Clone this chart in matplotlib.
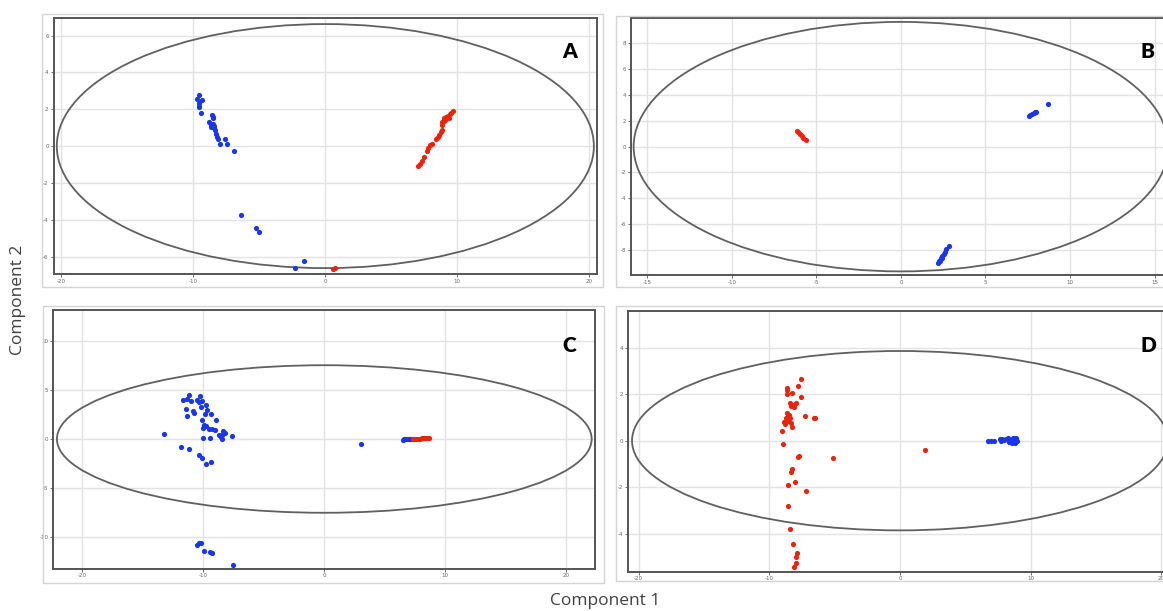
import matplotlib
matplotlib.use("Agg")
import matplotlib.pyplot as plt
from matplotlib.patches import Ellipse, Rectangle

plt.rcParams['axes.unicode_minus'] = False

W, H = 1163, 611

# ---------------- data ----------------
# Panel A
a_blue_x = [-9.6, -9.7, -9.35, -9.55, -9.6, -9.55, -9.4, -8.6, -8.55, -8.5, -8.8, -8.65, -8.5, -8.4,
            -8.7, -8.45, -8.35, -8.25, -8.2, -8.15, -7.95, -7.6, -7.45, -6.95, -6.36, -5.24, -5.04,
            -1.58, -2.29]
a_blue_y = [2.75, 2.55, 2.5, 2.35, 2.2, 2.1, 1.8, 1.7, 1.6, 1.5, 1.3, 1.15, 1.2, 1.1,
            1.05, 1.0, 0.85, 0.63, 0.5, 0.4, 0.1, 0.38, 0.09, -0.27, -3.77, -4.47, -4.69,
            -6.22, -6.63]
a_red_x = [7.0, 7.18, 7.33, 7.5, 7.68, 7.79, 7.94, 8.09, 8.35, 8.53, 8.65, 8.76, 8.81, 8.85,
           8.81, 8.96, 9.03, 9.16, 9.3, 9.42, 9.54, 9.67, 9.1, 9.36, 0.56, 0.76]
a_red_y = [-1.08, -0.97, -0.79, -0.58, -0.25, -0.13, 0.05, 0.14, 0.36, 0.47, 0.59, 0.74, 0.9, 1.14,
           1.3, 1.37, 1.5, 1.59, 1.62, 1.73, 1.8, 1.91, 1.43, 1.5, -6.7, -6.61]

# Panel B
b_blue_x = [7.55, 7.65, 7.75, 7.85, 7.95, 8.0, 8.7,
            2.22, 2.28, 2.37, 2.44, 2.52, 2.58, 2.68, 2.86, 2.3, 2.41]
b_blue_y = [2.4, 2.46, 2.53, 2.59, 2.67, 2.71, 3.28,
            -8.99, -8.84, -8.65, -8.47, -8.32, -8.14, -7.95, -7.7, -8.9, -8.6]
b_red_x = [-6.15, -6.06, -5.96, -5.86, -5.76, -5.64]
b_red_y = [1.24, 1.11, 0.98, 0.83, 0.7, 0.52]

# Panel C
c_blue_x = [-11.16, -10.27, -11.65, -11.37, -11.04, -10.55, -10.33, -10.08, -10.21, -9.8,
            -11.43, -10.88, -10.74, -9.72, -9.86, -9.39, -11.37, -10.13, -8.98, -9.94,
            -9.78, -10.0, -9.5, -9.3, -9.03, -8.35, -8.21, -8.68, -8.48, -8.56,
            -7.65, -10.0, -9.45, -8.48, -13.25, -11.87, -11.16, -10.33, -10.13, -9.39,
            -9.8, -10.5, -10.33, -10.17, -9.94, -9.45, -9.26, -7.57, 3.02,
            6.5, 6.6, 6.7, 6.8, 6.9, 7.0, 7.1, 7.2]
c_blue_y = [4.52, 4.38, 3.94, 4.04, 3.87, 3.94, 3.77, 3.87, 3.26, 3.43,
            3.03, 2.82, 2.69, 2.92, 2.59, 2.59, 2.35, 1.98, 1.91, 1.47,
            1.33, 1.13, 0.99, 1.06, 0.89, 0.79, 0.66, 0.45, 0.39, 0.21,
            0.28, 0.15, 0.15, 0.05, 0.52, -0.8, -0.97, -1.64, -1.92, -2.39,
            -2.56, -10.78, -10.65, -10.55, -11.42, -11.52, -11.62, -12.81, -0.51,
            -0.06, -0.05, -0.05, -0.04, -0.04, -0.03, -0.03, -0.02]
c_red_x = [7.3, 7.45, 7.6, 7.75, 7.9, 8.05, 8.2, 8.35, 8.5, 8.65]
c_red_y = [-0.01, 0.0, 0.02, 0.03, 0.05, 0.06, 0.08, 0.09, 0.1, 0.12]

# Panel D
d_blue_x = [6.72, 6.93, 7.19, 7.65, 7.83, 8.09, 8.27, 8.47, 8.6, 8.73, 8.85, 8.98, 8.67,
            7.75, 7.96, 8.35, 8.9, 8.78]
d_blue_y = [-0.02, 0.0, -0.01, 0.06, 0.08, 0.08, 0.1, 0.04, -0.08, -0.05, 0.08, -0.01, 0.1,
            -0.02, 0.01, -0.05, 0.13, -0.11]
d_red_x = [-7.55, -7.8, -8.62, -8.62, -8.24, -8.62, -7.6, -8.42, -8.29, -8.11, -7.98, -8.36,
           -8.62, -8.49, -8.72, -8.42, -8.88, -8.55, -8.36, -8.8, -8.29, -9.05, -7.27, -6.56,
           -6.48, -8.93, -7.78, -7.7, -5.1, -8.24, -8.32, -8.06, -8.55, -7.19, -8.55, -8.42,
           -8.16, -7.9, -7.96, -7.96, -8.11, 1.95]
d_red_y = [2.66, 2.35, 2.28, 2.18, 2.06, 2.0, 1.86, 1.63, 1.53, 1.46, 1.6, 1.49,
           1.18, 1.1, 0.96, 0.96, 0.82, 0.86, 0.75, 0.72, 0.6, 0.43, 1.06, 0.96,
           0.98, -0.14, -0.71, -0.67, -0.76, -1.23, -1.33, -1.76, -1.9, -2.16, -2.8, -3.78,
           -4.45, -4.81, -5.0, -5.26, -5.43, -0.4]

# ellipse half-axes (x, y)
ell_a = (20.35, 6.63)
ell_b = (15.8, 9.67)
ell_c = (22.1, 7.52)
ell_d = (20.5, 3.85)

labels = ['A', 'B', 'C', 'D']

# ---------------- layout ----------------
fig = plt.figure(figsize=(W / 100, H / 100), dpi=100)
fig.patch.set_facecolor('white')

def px_axes(left, top, right, bottom):
    return fig.add_axes([left / W, 1 - bottom / H, (right - left) / W, (bottom - top) / H])

# outer screenshot frames
frames = [(42, 14, 603, 287), (616, 16, 1175, 287), (43, 306, 604, 583), (616, 306, 1175, 581)]
for (l, t, r, b) in frames:
    fig.add_artist(Rectangle((l / W, 1 - b / H), (r - l) / W, (b - t) / H,
                             transform=fig.transFigure, fill=False,
                             edgecolor='#d4d4d4', linewidth=1.0))

BLUE = '#1a36e8'
RED = '#e8250c'

panels = [
    dict(box=(53.5, 18, 596.5, 274), xlim=(-20.6, 20.55), ylim=(-6.95, 6.96),
         xt=[-20, -10, 0, 10, 20], yt=[-6, -4, -2, 0, 2, 4, 6], ell=ell_a,
         bx=a_blue_x, by=a_blue_y, rx=a_red_x, ry=a_red_y, lab=(570, 52)),
    dict(box=(630.6, 18.3, 1180, 275), xlim=(-15.98, 16.5), ylim=(-9.95, 9.95),
         xt=[-15, -10, -5, 0, 5, 10, 15], yt=[-8, -6, -4, -2, 0, 2, 4, 6, 8], ell=ell_b,
         bx=b_blue_x, by=b_blue_y, rx=b_red_x, ry=b_red_y, lab=(1147, 52)),
    dict(box=(53.3, 309.5, 595.3, 568.5), xlim=(-22.4, 22.4), ylim=(-13.2, 13.2),
         xt=[-20, -10, 0, 10, 20], yt=[-10, -5, 0, 5, 10], ell=ell_c,
         bx=c_blue_x, by=c_blue_y, rx=c_red_x, ry=c_red_y, lab=(569, 346)),
    dict(box=(628.1, 310.7, 1181, 571.6), xlim=(-20.8, 21.5), ylim=(-5.62, 5.58),
         xt=[-20, -10, 0, 10, 20], yt=[-4, -2, 0, 2, 4], ell=ell_d,
         bx=d_blue_x, by=d_blue_y, rx=d_red_x, ry=d_red_y, lab=(1148, 346)),
]

for p, lab in zip(panels, labels):
    ax = px_axes(*p['box'])
    ax.set_xlim(*p['xlim'])
    ax.set_ylim(*p['ylim'])
    ax.set_xticks(p['xt'])
    ax.set_yticks(p['yt'])
    ax.set_facecolor('white')
    ax.grid(True, color='#e3e3e3', linewidth=1.0, zorder=0)
    ax.set_axisbelow(True)
    for s in ax.spines.values():
        s.set_color('#555555')
        s.set_linewidth(1.4)
    ax.tick_params(axis='both', labelsize=4, colors='#555555', length=2, width=0.6,
                   pad=1.5, labelcolor='#666666')
    ew, eh = p['ell']
    ax.add_patch(Ellipse((0, 0), 2 * ew, 2 * eh, fill=False, edgecolor='#606060',
                         linewidth=1.3, zorder=2))
    ax.scatter(p['bx'], p['by'], s=14, color=BLUE, linewidths=0, zorder=3)
    ax.scatter(p['rx'], p['ry'], s=14, color=RED, linewidths=0, zorder=3)
    lx, ly = p['lab']
    fig.text(lx / W, 1 - ly / H, lab, ha='center', va='center', fontsize=15,
             fontweight='heavy', family=['Lato', 'DejaVu Sans'], color='black')

fig.text(18 / W, 1 - 300 / H, 'Component 2', rotation=90, ha='center', va='center',
         fontsize=12.5, family=['Open Sans', 'DejaVu Sans'], color='#404040')
fig.text(605 / W, 1 - 601 / H, 'Component 1', ha='center', va='center',
         fontsize=12.5, family=['Open Sans', 'DejaVu Sans'], color='#404040')

fig.savefig('out.png', dpi=100, facecolor='white')
